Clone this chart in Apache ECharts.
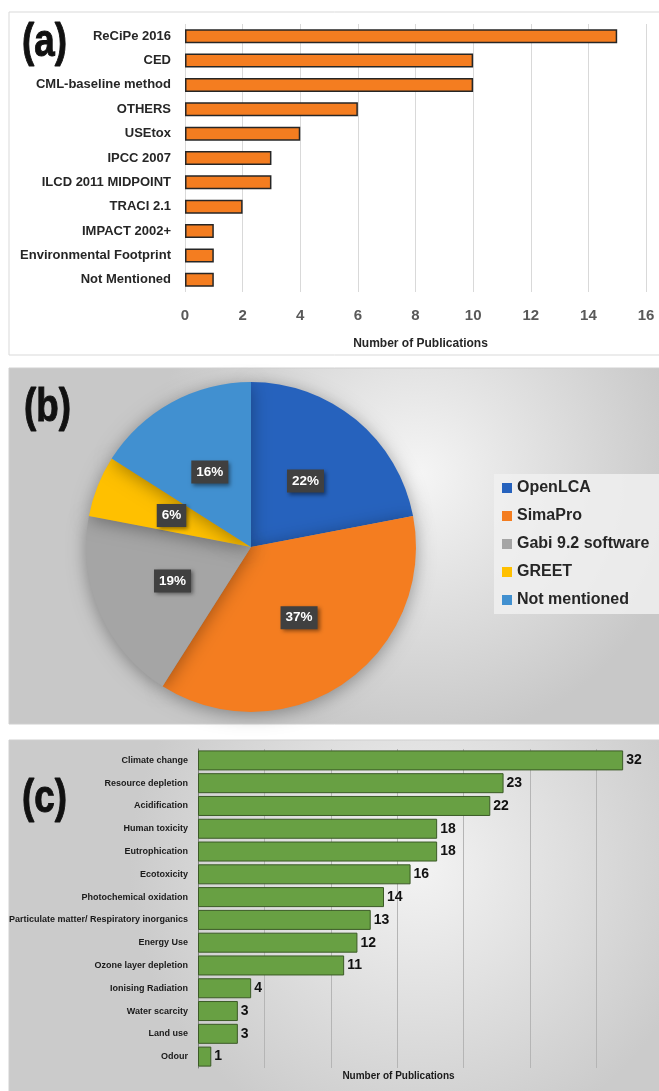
<!DOCTYPE html>
<html>
<head>
<meta charset="utf-8">
<script src="https://cdn.jsdelivr.net/npm/echarts@6/dist/echarts.min.js"></script>
<style>
  html, body { margin: 0; padding: 0; background: #fff; }
  #main { width: 659px; height: 1091px; }
</style>
</head>
<body>
<div id="main"></div>
<script>
// (a) impact assessment methods
var methodNames = ['ReCiPe 2016', 'CED', 'CML-baseline method', 'OTHERS', 'USEtox', 'IPCC 2007',
  'ILCD 2011 MIDPOINT', 'TRACI 2.1', 'IMPACT 2002+', 'Environmental Footprint', 'Not Mentioned'];
var methodCounts = [15, 10, 10, 6, 4, 3, 3, 2, 1, 1, 1];

// (b) software share (%)
var softwareNames = ['OpenLCA', 'SimaPro', 'Gabi 9.2 software', 'GREET', 'Not mentioned'];
var softwareShares = [22, 37, 19, 6, 16];
var softwareColors = ['#2662bd', '#f47d20', '#a5a5a5', '#ffc000', '#4190d0'];

// (c) impact categories
var impactNames = ['Climate change', 'Resource depletion', 'Acidification', 'Human toxicity',
  'Eutrophication', 'Ecotoxicity', 'Photochemical oxidation',
  'Particulate matter/ Respiratory inorganics', 'Energy Use', 'Ozone layer depletion',
  'Ionising Radiation', 'Water scarcity', 'Land use', 'Odour'];
var impactCounts = [32, 23, 22, 18, 18, 16, 14, 13, 12, 11, 4, 3, 3, 1];

var font = '"Liberation Sans", Arial, sans-serif';

var chart = echarts.init(document.getElementById('main'));

function letter(txt, x, y) {
  return { type: 'text', x: x, y: y, scaleX: 0.8, z: 10,
    style: { text: txt, font: 'bold 46px ' + font, fill: '#111', textVerticalAlign: 'top',
      stroke: '#111', lineWidth: 1 } };
}

chart.setOption({
  animation: false,
  graphic: [
    // panel boxes
    { type: 'rect', z: -10, shape: { x: 9, y: 12, width: 660, height: 343 },
      style: { fill: '#ffffff', stroke: '#d9d9d9', lineWidth: 1 } },
    { type: 'rect', z: -10, shape: { x: 9, y: 368, width: 660, height: 356 },
      style: {
        fill: { type: 'radial', x: 0.62, y: 0.3, r: 0.75,
          colorStops: [{ offset: 0, color: '#f5f5f5' }, { offset: 1, color: '#c8c8c8' }] },
        stroke: '#d0d0d0', lineWidth: 1 } },
    { type: 'rect', z: -10, shape: { x: 9, y: 740, width: 660, height: 360 },
      style: {
        fill: { type: 'radial', x: 0.62, y: 0.35, r: 0.8,
          colorStops: [{ offset: 0, color: '#f3f3f3' }, { offset: 1, color: '#cbcbcb' }] },
        stroke: '#d0d0d0', lineWidth: 1 } },
    letter('(a)', 22, 20),
    letter('(b)', 24, 385),
    letter('(c)', 22, 776)
  ],
  legend: {
    data: softwareNames,
    orient: 'vertical',
    left: 494,
    top: 474,
    padding: [6, 10, 6, 8],
    backgroundColor: 'rgba(240,240,240,0.85)',
    itemWidth: 10,
    itemHeight: 10,
    itemGap: 12,
    icon: 'rect',
    textStyle: { fontFamily: font, fontWeight: 'bold', fontSize: 16, color: '#262626' }
  },
  grid: [
    { left: 185, right: 13, top: 24, height: 268, outerBoundsMode: 'none' },
    { left: 198, right: -4, top: 749, height: 319, outerBoundsMode: 'none' }
  ],
  xAxis: [
    {
      gridIndex: 0, type: 'value', min: 0, max: 16, interval: 2,
      axisLine: { show: false }, axisTick: { show: false },
      splitLine: { lineStyle: { color: '#d9d9d9', width: 1 } },
      axisLabel: { margin: 16, color: '#595959', fontFamily: font, fontWeight: 'bold', fontSize: 15 },
      name: 'Number of Publications', nameLocation: 'middle', nameGap: 46,
      nameTextStyle: { fontFamily: font, fontWeight: 'bold', fontSize: 12, color: '#262626', padding: [0, 0, 0, 10] }
    },
    {
      gridIndex: 1, type: 'value', min: 0, max: 35, interval: 5,
      axisLine: { show: false }, axisTick: { show: false }, axisLabel: { show: false },
      splitLine: { lineStyle: { color: '#b5b5b5', width: 1 } },
      name: 'Number of Publications', nameLocation: 'middle', nameGap: 3,
      nameTextStyle: { fontFamily: font, fontWeight: 'bold', fontSize: 10, color: '#1a1a1a', padding: [0, 64, 0, 0] }
    }
  ],
  yAxis: [
    {
      gridIndex: 0, type: 'category', data: methodNames, inverse: true,
      axisLine: { show: false }, axisTick: { show: false },
      axisLabel: { margin: 14, color: '#262626', fontFamily: font, fontWeight: 'bold', fontSize: 13 }
    },
    {
      gridIndex: 1, type: 'category', data: impactNames, inverse: true,
      axisLine: { show: true, lineStyle: { color: '#7f7f7f', width: 1 } }, axisTick: { show: false },
      axisLabel: { margin: 10, color: '#1a1a1a', fontFamily: font, fontWeight: 'bold', fontSize: 9 }
    }
  ],
  series: [
    {
      type: 'bar', xAxisIndex: 0, yAxisIndex: 0, data: methodCounts, barWidth: 14,
      itemStyle: { color: '#f47d20', borderColor: '#262626', borderWidth: 1.5 }
    },
    {
      type: 'pie', center: [251, 547], radius: 165, startAngle: 90, clockwise: true,
      data: softwareNames.map(function (n, i) {
        return { name: n, value: softwareShares[i], itemStyle: { color: softwareColors[i] } };
      }),
      itemStyle: { shadowBlur: 18, shadowColor: 'rgba(0,0,0,0.35)', shadowOffsetY: 3 },
      label: {
        position: 'inside', formatter: '{c}%',
        color: '#fff', fontFamily: font, fontWeight: 'bold', fontSize: 13.5,
        backgroundColor: '#404040', padding: [5, 5, 4, 5],
        shadowBlur: 4, shadowOffsetX: 2, shadowOffsetY: 2, shadowColor: 'rgba(0,0,0,0.45)'
      },
      labelLine: { show: false },
      emphasis: { disabled: true }
    },
    {
      type: 'bar', xAxisIndex: 1, yAxisIndex: 1, data: impactCounts, barWidth: 20,
      itemStyle: { color: '#68a043', borderColor: '#3b5a26', borderWidth: 1 },
      label: { show: true, position: 'right', distance: 3, color: '#111',
        fontFamily: font, fontWeight: 'bold', fontSize: 14 }
    }
  ]
});
</script>
</body>
</html>
